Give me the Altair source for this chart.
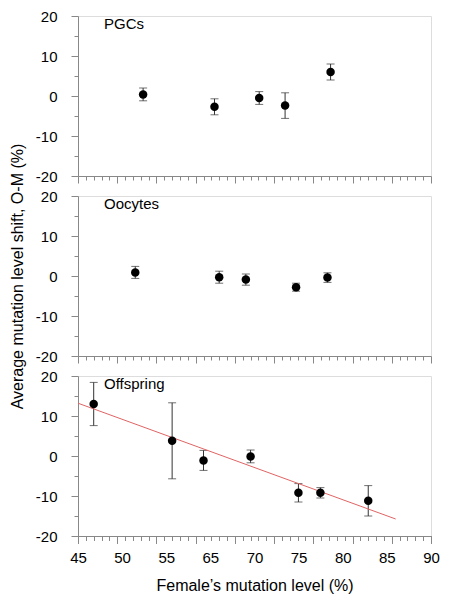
import altair as alt
import pandas as pd

# ---- data ----
panels = ["PGCs", "Oocytes", "Offspring"]

pgc_x = [53.3, 62.4, 68.1, 71.4, 77.2]
pgc_y = [0.4, -2.7, -0.5, -2.4, 6.0]
pgc_err = [1.6, 2.0, 1.6, 3.2, 2.0]

ooc_x = [52.3, 63.0, 66.4, 72.8, 76.8]
ooc_y = [0.9, -0.3, -0.9, -2.8, -0.4]
ooc_err = [1.5, 1.5, 1.4, 1.0, 1.2]

off_x = [47.0, 57.0, 61.0, 67.0, 73.1, 75.9, 82.0]
off_y = [13.0, 3.8, -1.1, -0.1, -9.2, -9.2, -11.2]
off_err = [5.4, 9.5, 2.5, 1.6, 2.3, 1.3, 3.8]

fit_x = [45.0, 85.5]
fit_y = [13.2, -15.75]

x_tick_values = list(range(45, 91))
y_tick_values = list(range(-20, 21, 5))
x_tick_labels = ["45", "50", "55", "65", "70", "75", "80", "85", "90"]

x_title = "Female\u2019s mutation level (%)"
y_title = "Average mutation level shift, O-M (%)"

W, H = 353, 160
FONT = "Liberation Sans"
ERR_COLOR = "#333333"

x_scale = alt.Scale(domain=[45, 90], nice=False, zero=False)
y_scale = alt.Scale(domain=[-20, 20], nice=False, zero=False)

x_axis = alt.Axis(
    orient="bottom", values=x_tick_values, labels=False, grid=False,
    tickSize={"condition": {"test": "datum.value % 5 === 0", "value": 7}, "value": 4},
)


def y_axis(with_title):
    kw = dict(
        values=y_tick_values, grid=False, labelPadding=14, labelFontSize=15,
        labelExpr="datum.value % 10 === 0 ? '' + datum.value : ''",
        tickSize={"condition": {"test": "datum.value % 10 === 0", "value": 7}, "value": 4},
    )
    if with_title:
        kw.update(title=y_title, titleFontSize=16, titleFontWeight="normal", titlePadding=10)
    return alt.Axis(**kw)


def panel(name, xs, ys, errs, with_ytitle=False, fit=False, bottom=False):
    df = pd.DataFrame({
        "x": xs, "y": ys,
        "lo": [a - b for a, b in zip(ys, errs)],
        "hi": [a + b for a, b in zip(ys, errs)],
    })
    yax = y_axis(with_ytitle)
    ytitle = y_title if with_ytitle else None

    def X():
        return alt.X("x:Q", scale=x_scale, axis=x_axis, title=None)

    def Y(field):
        return alt.Y(field, scale=y_scale, axis=yax, title=ytitle)

    base = alt.Chart(df)
    rule = base.mark_rule(color=ERR_COLOR, strokeWidth=1).encode(
        x=X(), y=Y("lo:Q"), y2="hi:Q")
    cap_lo = base.mark_tick(orient="horizontal", size=8, thickness=1, color=ERR_COLOR).encode(
        x=X(), y=Y("lo:Q"))
    cap_hi = base.mark_tick(orient="horizontal", size=8, thickness=1, color=ERR_COLOR).encode(
        x=X(), y=Y("hi:Q"))
    pts = base.mark_circle(size=72, color="black", opacity=1).encode(x=X(), y=Y("y:Q"))
    label = alt.Chart(pd.DataFrame({"name": [name]})).mark_text(
        align="left", baseline="middle", fontSize=15, font=FONT, color="black"
    ).encode(x=alt.value(26), y=alt.value(8), text="name:N")

    layers = [rule, cap_lo, cap_hi]
    if fit:
        line = alt.Chart(pd.DataFrame({"x": fit_x, "y": fit_y})).mark_line(
            color="#e06464", strokeWidth=1).encode(x=X(), y=Y("y:Q"))
        layers.append(line)
    layers += [pts, label]

    if bottom:
        lab = alt.Chart(pd.DataFrame({"lab": x_tick_labels})).mark_point(opacity=0).encode(
            x=alt.X("lab:N", sort=x_tick_labels,
                    scale=alt.Scale(type="point", padding=0),
                    axis=alt.Axis(orient="bottom", domain=False, ticks=False, labelAngle=0,
                                  labelPadding=14, labelFontSize=15,
                                  titleFontSize=16, titleFontWeight="normal", titlePadding=12),
                    title=x_title),
            y=alt.value(0),
        )
        layers.append(lab)
        return alt.layer(*layers).resolve_scale(x="independent").properties(width=W, height=H)
    return alt.layer(*layers).properties(width=W, height=H)


p1 = panel(panels[0], pgc_x, pgc_y, pgc_err)
p2 = panel(panels[1], ooc_x, ooc_y, ooc_err, with_ytitle=True)
p3 = panel(panels[2], off_x, off_y, off_err, fit=True, bottom=True)

chart = alt.vconcat(p1, p2, p3, spacing=20, bounds="flush").properties(
    padding={"left": 0, "top": 0, "right": 0, "bottom": 0}
).configure_view(stroke=None).configure_axis(
    domainColor="black", tickColor="black", labelColor="black", titleColor="black",
    labelFont=FONT, titleFont=FONT, domainWidth=1, tickWidth=1,
).configure(font=FONT)

chart.save("out.html", embed_options={"renderer": "svg", "actions": False})
